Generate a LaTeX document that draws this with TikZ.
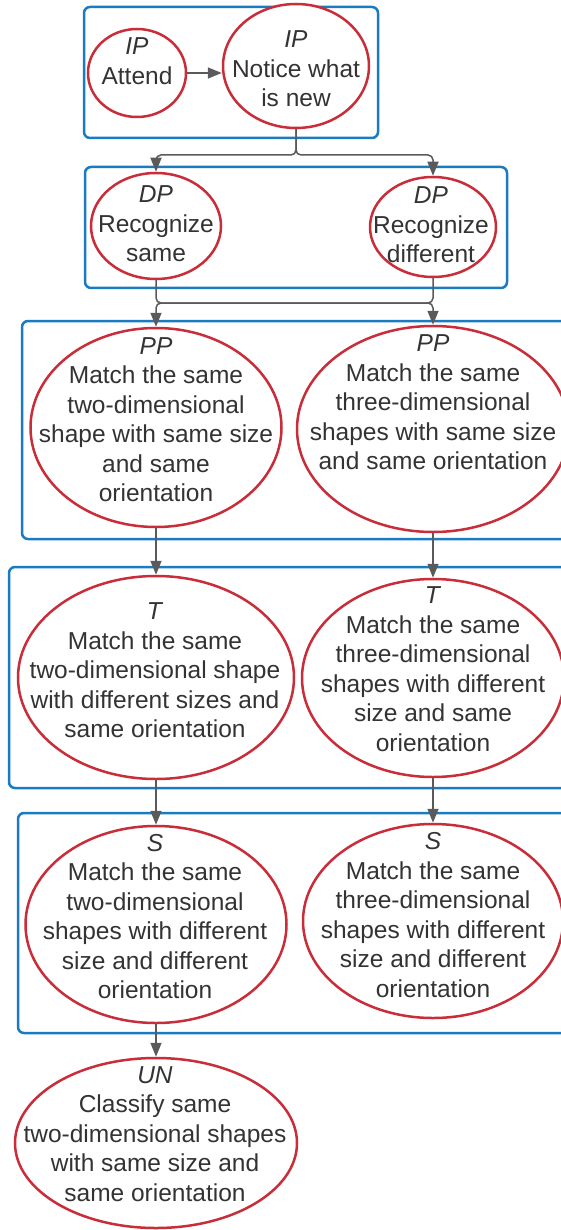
\documentclass[tikz,border=0pt]{standalone}
\usepackage{fontspec}
\setmainfont{Liberation Sans}
\usetikzlibrary{shapes.geometric,arrows.meta}
\definecolor{frameblue}{HTML}{1A7BC0}
\definecolor{ovalred}{HTML}{C92D39}
\definecolor{linegray}{HTML}{5A5A5A}
\definecolor{textgray}{HTML}{333333}
\tikzset{
  stage/.style={draw=frameblue, line width=2.5pt, rounded corners=6pt},
  oval/.style={ellipse, draw=ovalred, line width=2.5pt, fill=white, inner sep=0pt},
  lbl/.style={align=center, text=textgray, inner sep=0pt,
    font=\fontsize{24.5}{29.5}\selectfont},
  conn/.style={draw=linegray, line width=1.5pt, rounded corners=5pt,
    -{Triangle[length=14pt,width=11pt]}},
}
\begin{document}
\begin{tikzpicture}[x=1pt,y=-1pt]
\fill[white] (0,0) rectangle (561,1230);
\useasboundingbox (0,0) rectangle (561,1230);

% stage frames
\path[stage] (84,7) rectangle (378,138);
\path[stage] (85,167) rectangle (507,288);
\path[stage] (22,321) rectangle (580,539);
\path[stage] (9,567) rectangle (580,788);
\path[stage] (18,813) rectangle (580,1033);

% IP
\node[oval, minimum width=98pt, minimum height=88pt] (att) at (137,73) {};
\node[lbl] (attT) at (137,61) {\textit{IP}\\Attend};
\node[oval, minimum width=146pt, minimum height=124pt] (noti) at (296,66) {};
\node[lbl] (notiT) at (296,69) {\textit{IP}\\Notice what\\is new};

% DP
\node[oval, minimum width=130pt, minimum height=106pt] (dpl) at (156,226) {};
\node[lbl] (dplT) at (156,224) {\textit{DP}\\Recognize\\same};
\node[oval, minimum width=126pt, minimum height=100pt] (dpr) at (433,227) {};
\node[lbl] (dprT) at (431,225) {\textit{DP}\\Recognize\\different};

% PP
\node[oval, minimum width=251pt, minimum height=199pt] (ppl) at (156,427.5) {};
\node[lbl] (pplT) at (156,419.5) {\textit{PP}\\Match the same\\two-dimensional\\shape with same size\\and same\\orientation};
\node[oval, minimum width=272pt, minimum height=206pt] (ppr) at (433,429) {};
\node[lbl] (pprT) at (433,402.5) {\textit{PP}\\Match the same\\three-dimensional\\shapes with same size\\and same orientation};

% T
\node[oval, minimum width=276pt, minimum height=203pt] (tl) at (156,677.5) {};
\node[lbl] (tlT) at (155,670.5) {\textit{T}\\Match the same\\two-dimensional shape\\with different sizes and\\same orientation};
\node[oval, minimum width=262pt, minimum height=198pt] (tr) at (433,678) {};
\node[lbl] (trT) at (433,669) {\textit{T}\\Match the same\\three-dimensional\\shapes with different\\size and same\\orientation};

% S
\node[oval, minimum width=261pt, minimum height=197pt] (sl) at (156,924.5) {};
\node[lbl] (slT) at (155,916.5) {\textit{S}\\Match the same\\two-dimensional\\shapes with different\\size and different\\orientation};
\node[oval, minimum width=260pt, minimum height=194pt] (sr) at (433,921) {};
\node[lbl] (srT) at (433,915) {\textit{S}\\Match the same\\three-dimensional\\shapes with different\\size and different\\orientation};

% UN
\node[oval, minimum width=282pt, minimum height=170pt] (un) at (156,1143) {};
\node[lbl] (unT) at (155,1134) {\textit{UN}\\Classify same\\two-dimensional shapes\\with same size and\\same orientation};

% junction points
\coordinate (j1) at (296,155);
\coordinate (m1) at (156,303);
\coordinate (m2) at (433,303);

% connectors
\draw[conn] (att.east) -- (noti.west |- att.east);
\draw[conn] (noti.south) -- (j1) -| (dpl.north);
\draw[conn] (noti.south) -- (j1) -| (dpr.north);
\draw[conn] (dpl.south) |- (m2) -- (ppr.north);
\draw[conn] (dpr.south) |- (m1) -- (ppl.north);
\draw[conn] (ppl.south) -- (tl.north);
\draw[conn] (ppr.south) -- (tr.north);
\draw[conn] (tl.south) -- (sl.north);
\draw[conn] (tr.south) -- (sr.north);
\draw[conn] (sl.south) -- (un.north);
\end{tikzpicture}
\end{document}
